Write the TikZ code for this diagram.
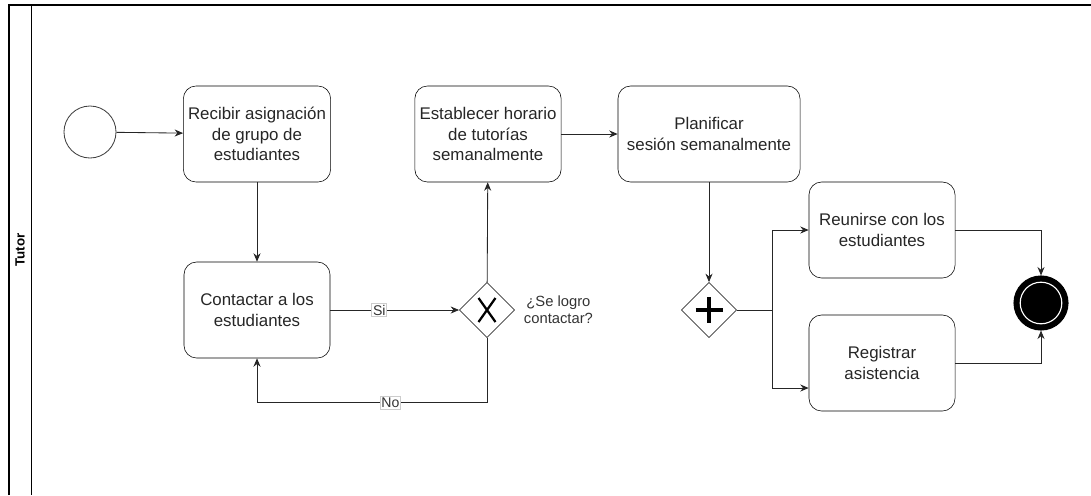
\documentclass[tikz,border=0pt]{standalone}
\usepackage{fontspec}
\setmainfont{Liberation Sans}
\usetikzlibrary{shapes.geometric, arrows.meta, positioning, calc}

\tikzset{
	tarea/.style={draw, rounded corners=9pt, minimum width=3.65cm, minimum height=2.4cm,
		align=center, text=black!85, font=\fontsize{12}{14.5}\selectfont},
	compuerta/.style={draw, diamond, minimum size=1.38cm, inner sep=0pt},
	flecha/.style={-{Stealth[length=6pt, width=5pt]}, line width=0.6pt, color=black!85},
	linea/.style={line width=0.6pt, color=black!85},
	etiq/.style={draw=black!20, fill=white, inner sep=0.8pt, text=black!80, font=\fontsize{10}{11}\selectfont},
	evento/.style={circle, inner sep=0pt, minimum size=1.3cm},
}

\begin{document}
\begin{tikzpicture}[x=0.025cm, y=-0.025cm]
		\useasboundingbox (0,0) rectangle (1091,495);
		\draw[line width=0.9pt] (9,495) -- (9,5) -- (1091,5);
		\draw[line width=0.6pt] (31,5) -- (31,495);
		\node[rotate=90, font=\bfseries\fontsize{9.5}{10}\selectfont] (carril) at (20,250) {Tutor};
		
		\node[evento, draw=black!75, line width=0.6pt] (inicio) at (90,132) {};
		\node[tarea] (recibir) at (257,134) {Recibir asignación\\de grupo de\\estudiantes};
		\node[tarea] (contactar) at (257,310) {Contactar a los\\estudiantes};
		\node[compuerta] (decision) at (487,310) {};
		\draw[line width=1.6pt] ($(decision)+(-8.5,-12)$) -- ($(decision)+(8.5,12)$);
		\draw[line width=1.6pt] ($(decision)+(-8.5,12)$) -- ($(decision)+(8.5,-12)$);
		\node[anchor=west, align=center, text=black!80, font=\fontsize{10.5}{12}\selectfont] (pregunta) at (519,310) {¿Se logro\\contactar?};
		\node[tarea] (establecer) at (488,134) {Establecer horario\\de tutorías\\semanalmente};
		\node[tarea, minimum width=4.55cm] (planificar) at (709,134) {Planificar\\sesión semanalmente};
		\node[compuerta] (paralela) at (709,310) {};
		\draw[line width=2.8pt] ($(paralela)+(-13.5,0)$) -- ($(paralela)+(13.5,0)$);
		\draw[line width=2.8pt] ($(paralela)+(0,-13)$) -- ($(paralela)+(0,13)$);
		\node[tarea] (reunirse) at (882,230) {Reunirse con los\\estudiantes};
		\node[tarea] (registrar) at (882,363) {Registrar\\asistencia};
		\node[evento, fill=black, draw=black, line width=2.2pt, minimum size=1.3cm,
		path picture={\draw[white, line width=0.8pt] (path picture bounding box.center) circle (0.52cm);}] (fin) at (1041,303) {};
		
		\draw[flecha] (inicio) -- (recibir);
		\draw[flecha] (recibir) -- (contactar);
		\draw[flecha] (contactar) -- node[etiq, pos=0.38] {Si} (decision);
		\draw[flecha] (decision.south) -- ++(0,65) -| node[etiq, pos=0.21] {No} (contactar.south);
		\draw[flecha] (decision) -- (establecer);
		\draw[flecha] (establecer) -- (planificar);
		\draw[flecha] (planificar) -- (paralela);
		\coordinate (bifurca) at (772,310);
		\draw[linea] (paralela) -- (bifurca);
		\draw[flecha] (bifurca) |- (reunirse);
		\draw[flecha] (bifurca) |- ($(registrar.west)+(0,25)$);
		\draw[flecha] (reunirse) -| (fin);
		\draw[flecha] (registrar) -| (fin);
	\end{tikzpicture}
\end{document}
